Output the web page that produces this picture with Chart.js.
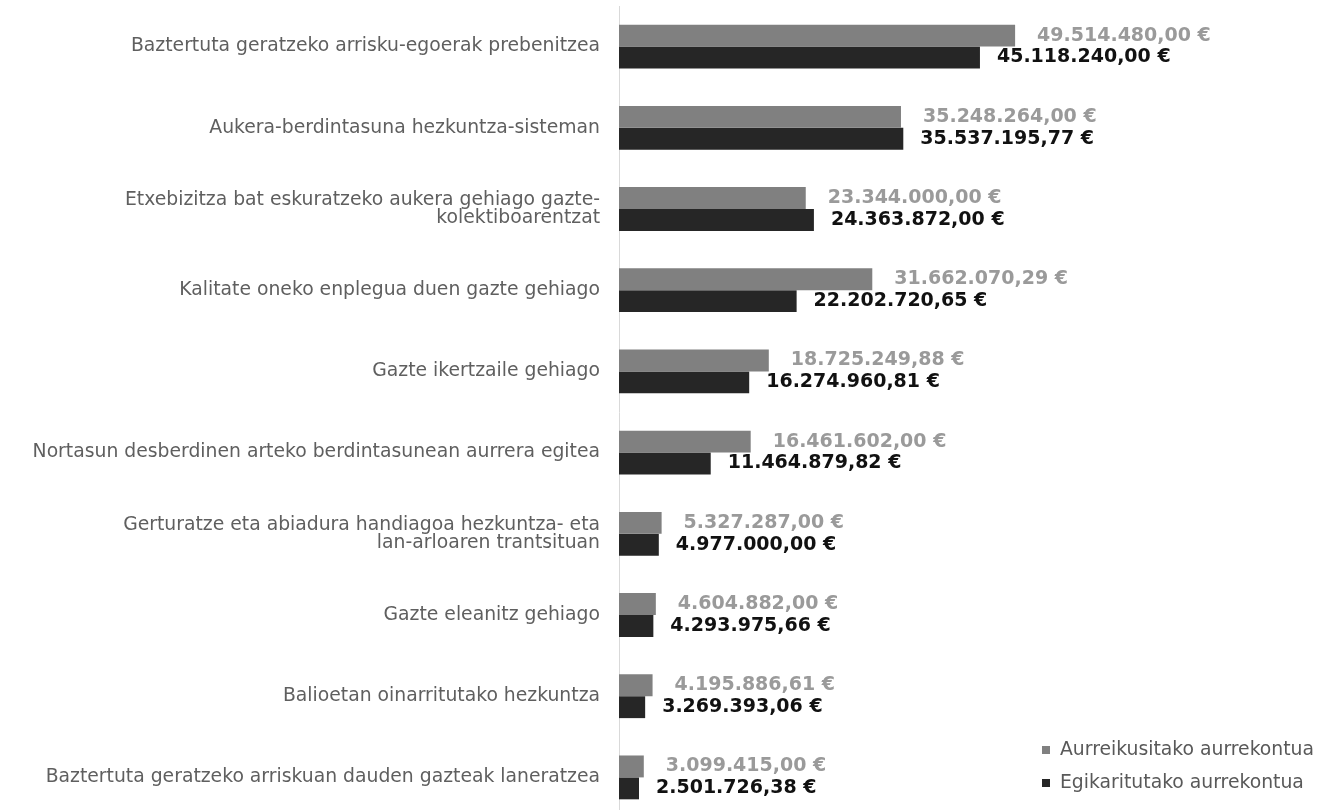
<!DOCTYPE html>
<html>
<head>
<meta charset="utf-8">
<script src="https://cdn.jsdelivr.net/npm/chart.js@4/dist/chart.umd.min.js"></script>
<style>
  html, body { margin: 0; padding: 0; background: #fff; overflow: hidden; }
  #wrap { width: 1330px; height: 820px; }
</style>
</head>
<body>
<div id="wrap"><canvas id="myChart"></canvas></div>
<script>
// categories (top to bottom)
const categories = [
  "Baztertuta geratzeko arrisku-egoerak prebenitzea",
  "Aukera-berdintasuna hezkuntza-sisteman",
  ["Etxebizitza bat eskuratzeko aukera gehiago gazte-", "kolektiboarentzat"],
  "Kalitate oneko enplegua duen gazte gehiago",
  "Gazte ikertzaile gehiago",
  "Nortasun desberdinen arteko berdintasunean aurrera egitea",
  ["Gerturatze eta abiadura handiagoa hezkuntza- eta", "lan-arloaren trantsituan"],
  "Gazte eleanitz gehiago",
  "Balioetan oinarritutako hezkuntza",
  "Baztertuta geratzeko arriskuan dauden gazteak laneratzea"
];

const planned = [49514480.00, 35248264.00, 23344000.00, 31662070.29, 18725249.88,
  16461602.00, 5327287.00, 4604882.00, 4195886.61, 3099415.00];
const executed = [45118240.00, 35537195.77, 24363872.00, 22202720.65, 16274960.81,
  11464879.82, 4977000.00, 4293975.66, 3269393.06, 2501726.38];

const seriesNames = ["Aurreikusitako aurrekontua", "Egikaritutako aurrekontua"];
const seriesColors = ["#808080", "#262626"];
const labelColors = ["#9a9a9a", "#111111"];

function euro(v) {
  const parts = v.toFixed(2).split(".");
  const int = parts[0].replace(/\B(?=(\d{3})+(?!\d))/g, ".");
  return int + "," + parts[1] + " €";
}

// values written next to each bar
const valueLabels = {
  id: "valueLabels",
  afterDatasetsDraw(chart) {
    const ctx = chart.ctx;
    ctx.save();
    ctx.font = "bold 19px 'DejaVu Sans'";
    ctx.textBaseline = "middle";
    ctx.textAlign = "left";
    chart.data.datasets.forEach((ds, i) => {
      const meta = chart.getDatasetMeta(i);
      ctx.fillStyle = labelColors[i];
      meta.data.forEach((bar, j) => {
        ctx.fillText(euro(ds.data[j]), bar.x + (i === 0 ? 22 : 17), bar.y);
      });
    });
    ctx.restore();
  }
};

// legend in the lower right corner
const cornerLegend = {
  id: "cornerLegend",
  afterDraw(chart) {
    const ctx = chart.ctx;
    const x = chart.width - 288;
    let y = chart.height - 70;
    ctx.save();
    ctx.font = "18.8px 'DejaVu Sans'";
    ctx.textBaseline = "middle";
    chart.data.datasets.forEach(ds => {
      ctx.fillStyle = ds.backgroundColor;
      ctx.fillRect(x, y - 4, 8, 8);
      ctx.fillStyle = "#595959";
      ctx.fillText(ds.label, x + 18, y);
      y += 33;
    });
    ctx.restore();
  }
};

new Chart(document.getElementById("myChart").getContext("2d"), {
  type: "bar",
  data: {
    labels: categories,
    datasets: [
      { label: seriesNames[0], data: planned, backgroundColor: seriesColors[0] },
      { label: seriesNames[1], data: executed, backgroundColor: seriesColors[1] }
    ]
  },
  options: {
    indexAxis: "y",
    responsive: true,
    maintainAspectRatio: false,
    animation: false,
    categoryPercentage: 0.54,
    barPercentage: 1,
    layout: { padding: { top: 6, bottom: 2, left: 0, right: 231 } },
    plugins: {
      legend: { display: false },
      tooltip: { enabled: false }
    },
    scales: {
      x: {
        min: 0,
        max: 60000000,
        display: false,
        grid: { display: false }
      },
      y: {
        afterFit: s => { s.width = 619; s.paddingTop = 0; s.paddingBottom = 0; },
        grid: { display: false },
        border: { display: true, color: "#d9d9d9", width: 1 },
        ticks: {
          color: "#5f5f5f",
          font: { family: "'DejaVu Sans'", size: 18.8, lineHeight: 0.96 },
          padding: 11
        }
      }
    }
  },
  plugins: [valueLabels, cornerLegend]
});
</script>
</body>
</html>
